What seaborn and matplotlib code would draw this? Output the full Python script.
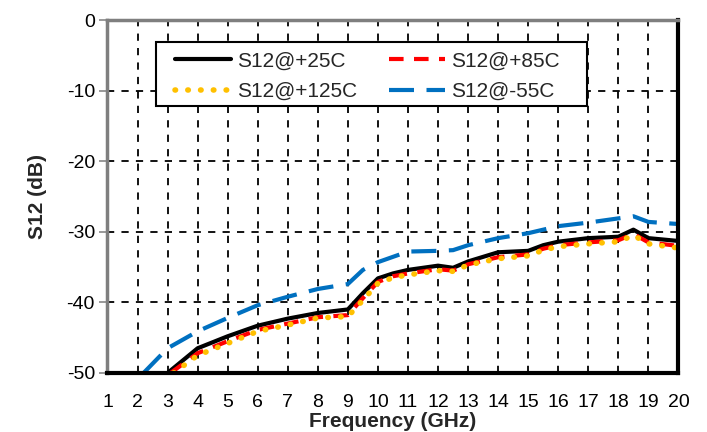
import numpy as np
import pandas as pd
import matplotlib
matplotlib.use("Agg")
import matplotlib.pyplot as plt
from matplotlib.patches import Rectangle
import seaborn as sns

# S12 vs frequency
freq_25 = [3.0, 4, 5, 6, 7, 8, 9, 9.5, 10, 10.5, 11, 12, 12.5, 13, 14, 15, 15.5, 16, 17, 18, 18.5, 19, 20]
s12_25 = [-50.0, -46.5, -44.8, -43.3, -42.3, -41.5, -41.0, -38.7, -36.6, -35.9, -35.4, -34.8, -35.1,
          -34.2, -32.9, -32.7, -31.9, -31.4, -30.9, -30.7, -29.7, -30.9, -31.3]

freq_85 = [3.1, 4, 5, 6, 7, 8, 9, 9.5, 10, 10.5, 11, 12, 12.5, 13, 14, 15, 15.5, 16, 17, 18, 18.5, 19, 20]
s12_85 = [-50.0, -47.2, -45.5, -43.9, -43.0, -42.1, -41.8, -39.4, -37.1, -36.3, -35.9, -35.3, -35.5,
          -34.6, -33.6, -33.2, -32.4, -31.9, -31.5, -31.2, -30.3, -31.5, -32.0]

freq_125 = [3.2, 4, 5, 6, 7, 8, 9, 9.5, 10, 10.5, 11, 12, 12.5, 13, 14, 15, 15.5, 16, 17, 18, 18.5, 19, 20]
s12_125 = [-50.0, -47.5, -45.8, -44.1, -43.2, -42.2, -42.0, -39.7, -37.3, -36.5, -36.1, -35.5, -35.6,
           -34.7, -33.8, -33.4, -32.6, -32.1, -31.7, -31.4, -30.5, -31.7, -32.3]

freq_m55 = [2.2, 3, 4, 5, 6, 7, 8, 9, 9.5, 10, 11, 12, 12.5, 13, 14, 15, 16, 17, 18, 18.5, 19, 20]
s12_m55 = [-50.0, -46.5, -44.1, -42.2, -40.4, -39.2, -38.1, -37.4, -35.4, -34.3, -32.8, -32.7, -32.6,
           -31.9, -30.9, -30.2, -29.2, -28.7, -28.1, -27.8, -28.6, -28.9]

x_ticks = list(range(1, 21))
y_ticks = [0, -10, -20, -30, -40, -50]

sns.set_style("white")
plt.rcParams['font.family'] = ['Liberation Sans', 'DejaVu Sans']
plt.rcParams['axes.unicode_minus'] = False

fig = plt.figure(figsize=(7.07, 4.32), dpi=100)
ax = fig.add_axes([0.152, 0.1366, 0.8076, 0.8171])

# dashed black grid behind the curves
ax.grid(True, color='black', linestyle=(0, (4, 4)), linewidth=1.3)
ax.set_axisbelow(True)

sns.lineplot(x=freq_25, y=s12_25, ax=ax, color='black', linewidth=3, label='S12@+25C')
sns.lineplot(x=freq_85, y=s12_85, ax=ax, color='#ff0000', linewidth=3,
             linestyle=(0, (3.5, 2.5)), label='S12@+85C')
sns.lineplot(x=freq_125, y=s12_125, ax=ax, color='#ffc000', linewidth=4,
             linestyle=(0, (0.1, 2.2)), label='S12@+125C')
sns.lineplot(x=freq_m55, y=s12_m55, ax=ax, color='#0070c0', linewidth=3,
             linestyle=(0, (6, 3)), label='S12@-55C')

for ln in ax.get_lines():
    if ln.get_color() == '#ffc000':
        ln.set_dash_capstyle('round')

ax.set_xlim(1, 20)
ax.set_ylim(-50, 0)
ax.set_xticks(x_ticks)
ax.set_yticks(y_ticks)
ax.tick_params(axis='both', labelsize=14, colors='black')
ax.tick_params(axis='y', length=6, width=1.2, color='#888888', left=True, pad=3)
ax.tick_params(axis='x', length=0, pad=15)

ax.set_xlabel('Frequency (GHz)', fontsize=15, fontweight='bold', labelpad=1)
ax.set_ylabel('S12 (dB)', fontsize=15, fontweight='bold', labelpad=14)

for side in ['left', 'top']:
    ax.spines[side].set_color('#7f7f7f')
    ax.spines[side].set_linewidth(2.5)
for side in ['bottom', 'right']:
    ax.spines[side].set_color('black')
    ax.spines[side].set_linewidth(3)

# legend box drawn separately: the original has extra room on its right side
ax.add_patch(Rectangle((0.0846, 0.756), 0.755, 0.182, transform=ax.transAxes,
                       facecolor='white', edgecolor='black', linewidth=1.5, zorder=1))

handles, labels = ax.get_legend_handles_labels()
order = [0, 2, 1, 3]
leg = ax.legend([handles[i] for i in order], [labels[i] for i in order], ncol=2,
                loc='upper left', bbox_to_anchor=(0.118, 0.911), borderaxespad=0,
                fontsize=15, frameon=False, handlelength=2.7, handletextpad=0.3,
                columnspacing=1.5, borderpad=0, labelspacing=0.55)

fig.savefig('out.png', dpi=100)
